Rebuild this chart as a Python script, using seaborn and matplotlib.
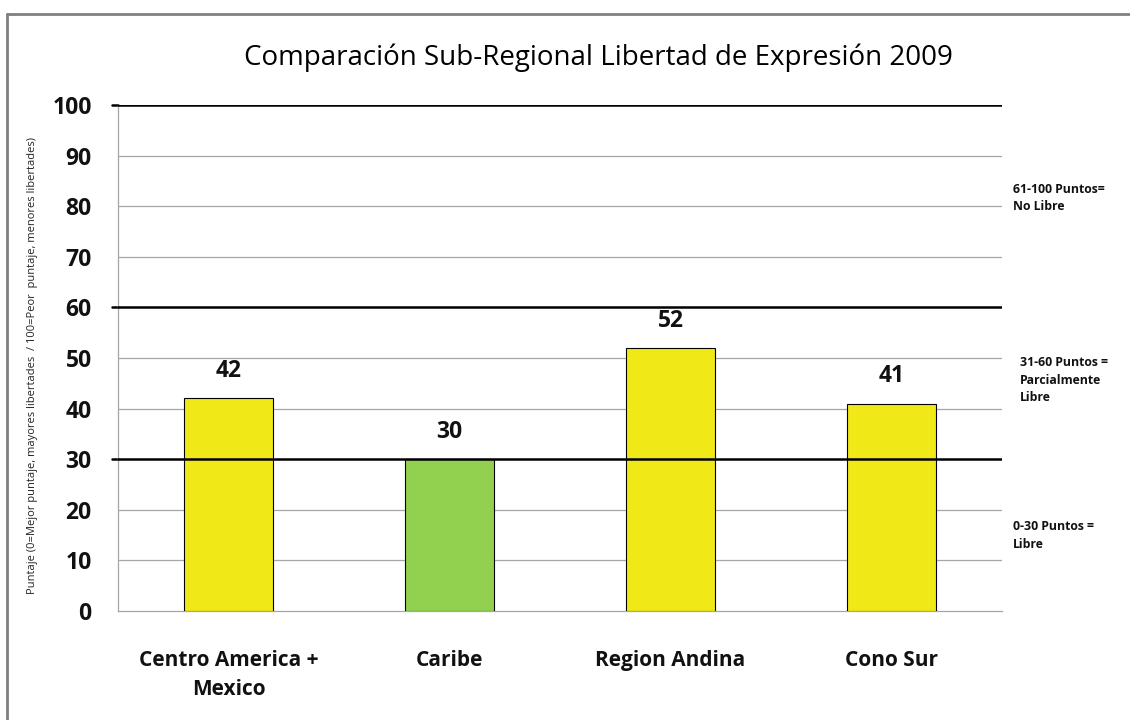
import matplotlib
matplotlib.use("Agg")
import matplotlib.pyplot as plt
import seaborn as sns
import pandas as pd
from matplotlib.lines import Line2D

categories = ["Centro America +\nMexico", "Caribe", "Region Andina", "Cono Sur"]
values = [42, 30, 52, 41]
bar_colors = ["#F0E817", "#92D050", "#F0E817", "#F0E817"]
y_ticks = [0, 10, 20, 30, 40, 50, 60, 70, 80, 90, 100]
thresholds = [30, 60, 100]
title = "Comparación Sub-Regional Libertad de Expresión 2009"
ylabel = "Puntaje (0=Mejor puntaje, mayores libertades  / 100=Peor  puntaje, menores libertades)"
band_notes = [(81.6, "61-100 Puntos=\nNo Libre", 0.012), (45.6, "31-60 Puntos =\nParcialmente\nLibre", 0.02), (14.9, "0-30 Puntos =\nLibre", 0.012)]

sns.set_theme(style="white")
plt.rcParams['font.family'] = ['Open Sans', 'DejaVu Sans']

df = pd.DataFrame({"cat": categories, "val": values})

fig = plt.figure(figsize=(11.3, 7.2), dpi=100)
ax = fig.add_axes([118/1130, 1 - 611/720, (1002-118)/1130, (611-105)/720])

sns.barplot(data=df, x="cat", y="val", hue="cat", palette=bar_colors, legend=False,
            saturation=1, width=0.4, edgecolor="black", linewidth=0.8, ax=ax, zorder=3)

ax.set_ylim(0, 100)
ax.set_xlim(-0.5, 3.5)
ax.set_yticks(y_ticks)
ax.set_yticklabels([str(t) for t in y_ticks], fontsize=16.5, fontweight="bold", color="#111111")
ax.tick_params(axis="y", length=0, pad=19)
ax.tick_params(axis="x", length=0, pad=28)
for lbl in ax.get_xticklabels():
    lbl.set_fontsize(15)
    lbl.set_fontweight("bold")
    lbl.set_linespacing(1.5)
    lbl.set_color("#111111")
ax.set_xlabel("")
ax.set_ylabel("")

for t in y_ticks:
    if t in thresholds:
        ax.axhline(t, color="black", lw=1.8, zorder=4)
        ax.add_line(Line2D([-0.5 - 0.025, -0.5], [t, t], color="black", lw=1.8, clip_on=False))
    elif t > 0:
        ax.axhline(t, color="#A6A6A6", lw=0.9, zorder=1)

for s in ["top", "right"]:
    ax.spines[s].set_visible(False)
for s in ["left", "bottom"]:
    ax.spines[s].set_color("#A6A6A6")
    ax.spines[s].set_linewidth(0.9)

for i, v in enumerate(values):
    ax.text(i, v + 3.0, str(v), ha="center", va="bottom", fontsize=16.5, fontweight="bold", color="#111111")

fig.text(598/1130, 1 - 58/720, title, ha="center", va="center", fontsize=20, fontweight=500, color="black")
fig.text(33/1130, 1 - 365/720, ylabel, rotation=90, ha="center", va="center", fontsize=8, color="#222222")

for y, txt, dx in band_notes:
    ax.text(1 + dx, y, txt, transform=ax.get_yaxis_transform(), ha="left", va="center",
            fontsize=8.8, fontweight="bold", linespacing=1.45, color="#111111")

fig.add_artist(Line2D([7/1130, 7/1130], [0, 1 - 14/720], color="#808080", lw=2, transform=fig.transFigure))
fig.add_artist(Line2D([7/1130, 1], [1 - 14/720, 1 - 14/720], color="#808080", lw=2, transform=fig.transFigure))

fig.savefig("out.png", dpi=100)
